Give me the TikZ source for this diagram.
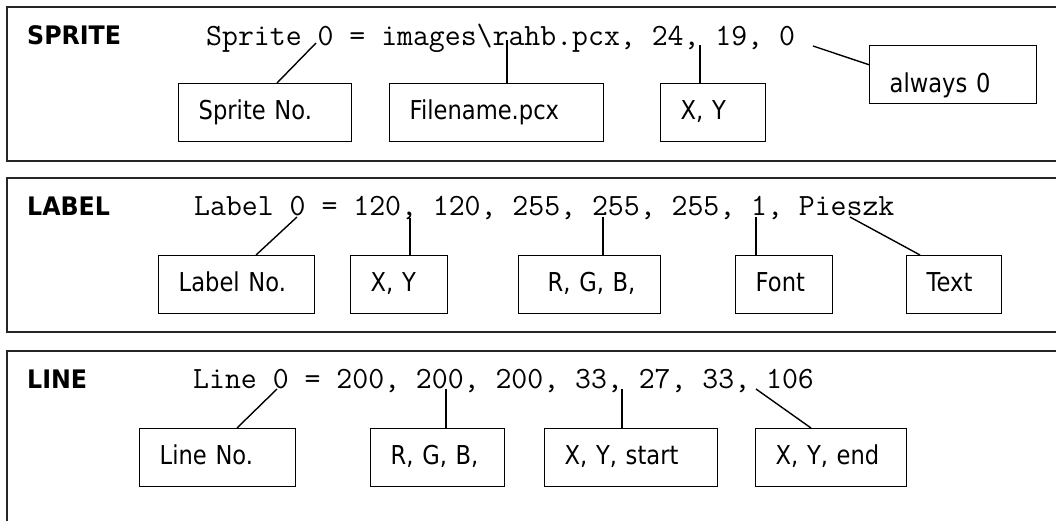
\documentclass[tikz,border=0pt]{standalone}
\usepackage{fontspec}
\newfontfamily\labelfont{DejaVu Sans}[FakeStretch=0.87]
\newfontfamily\headfont{DejaVu Sans}[FakeStretch=0.93]
\frenchspacing
\begin{document}
\begin{tikzpicture}[x=1pt,y=-1pt,
  panel/.style={line width=1.8pt, draw=black!85},
  head/.style={inner sep=0pt, anchor=base west,
    font=\headfont\bfseries\fontsize{25.5}{30}\selectfont},
  code/.style={inner sep=0pt, anchor=base west,
    font=\ttfamily\fontsize{30.9}{34}\selectfont},
  field/.style={draw, line width=1.4pt, anchor=north west,
    inner xsep=20pt, inner ysep=0pt, minimum height=58pt,
    text height=19pt, text depth=5pt, align=left,
    font=\labelfont\fontsize{26}{30}\selectfont},
  wire/.style={line width=1.4pt}]
\useasboundingbox (0,0) rectangle (1056,520);
\clip (0,0) rectangle (1056,520);

% three framed sections
\draw[panel] (7,7) rectangle (1075,161);
\draw[panel] (7,178) rectangle (1075,332);
\draw[panel] (7,351) rectangle (1075,540);

% ---- SPRITE ----
\node[head] (hs) at (27,44) {SPRITE};
\node[code] (cs) at (206,45) {Sprite 0 = images\textbackslash rahb.pcx, 24, 19, 0};
\node[field, text width=133pt] (sno) at (178,83) {Sprite No.};
\node[field, text width=174pt] (sfn) at (389,83) {Filename.pcx};
\node[field, text width=65pt] (sxy) at (660,83) {X, Y};
\node[field, text width=127pt, text height=37pt, text depth=2pt] (saw) at (869,45) {always 0};
\coordinate (ps0) at (316,43);
\coordinate (psf) at (507,40);
\coordinate (psxy) at (700,45);
\coordinate (psa) at (813,46);
\draw[wire] ([xshift=99pt]sno.north west) -- (ps0);
\draw[wire] (sfn.north -| psf) -- (psf);
\draw[wire] (sxy.north -| psxy) -- (psxy);
\draw[wire] (psa) -- ([yshift=10pt]saw.west);

% ---- LABEL ----
\node[head] (hl) at (27,215) {LABEL};
\node[code] (cl) at (194,215) {Label 0 = 120, 120, 255, 255, 255, 1, Pieszk};
\node[field, text width=116pt] (lno) at (158,255) {Label No.};
\node[field, text width=57pt] (lxy) at (350,255) {X, Y};
\node[field, text width=102pt] (lrgb) at (518,255) {\hspace*{9pt}R, G, B,};
\node[field, text width=57pt] (lfont) at (735,255) {Font};
\node[field, text width=55pt] (ltext) at (906,255) {Text};
\coordinate (pl0) at (297,217);
\coordinate (plxy) at (410,218);
\coordinate (plrgb) at (603,217);
\coordinate (plf) at (756,217);
\coordinate (plt) at (850,217);
\draw[wire] ([xshift=98pt]lno.north west) -- (pl0);
\draw[wire] (lxy.north -| plxy) -- (plxy);
\draw[wire] (lrgb.north -| plrgb) -- (plrgb);
\draw[wire] (lfont.north -| plf) -- (plf);
\draw[wire] ([xshift=14pt]ltext.north west) -- (plt);

% ---- LINE ----
\node[head] (hn) at (27,388) {LINE};
\node[code] (cn) at (193,388) {Line 0 = 200, 200, 200, 33, 27, 33, 106};
\node[field, text width=116pt] (nno) at (139,428) {Line No.};
\node[field, text width=94pt] (nrgb) at (370,428) {R, G, B,};
\node[field, text width=133pt] (nst) at (544,428) {X, Y, start};
\node[field, text width=111pt] (nend) at (755,428) {X, Y, end};
\coordinate (pn0) at (277,389);
\coordinate (pnrgb) at (446,389);
\coordinate (pnst) at (622,389);
\coordinate (pnend) at (756,389);
\draw[wire] ([xshift=98pt]nno.north west) -- (pn0);
\draw[wire] (nrgb.north -| pnrgb) -- (pnrgb);
\draw[wire] (nst.north -| pnst) -- (pnst);
\draw[wire] ([xshift=56pt]nend.north west) -- (pnend);
\end{tikzpicture}
\end{document}
